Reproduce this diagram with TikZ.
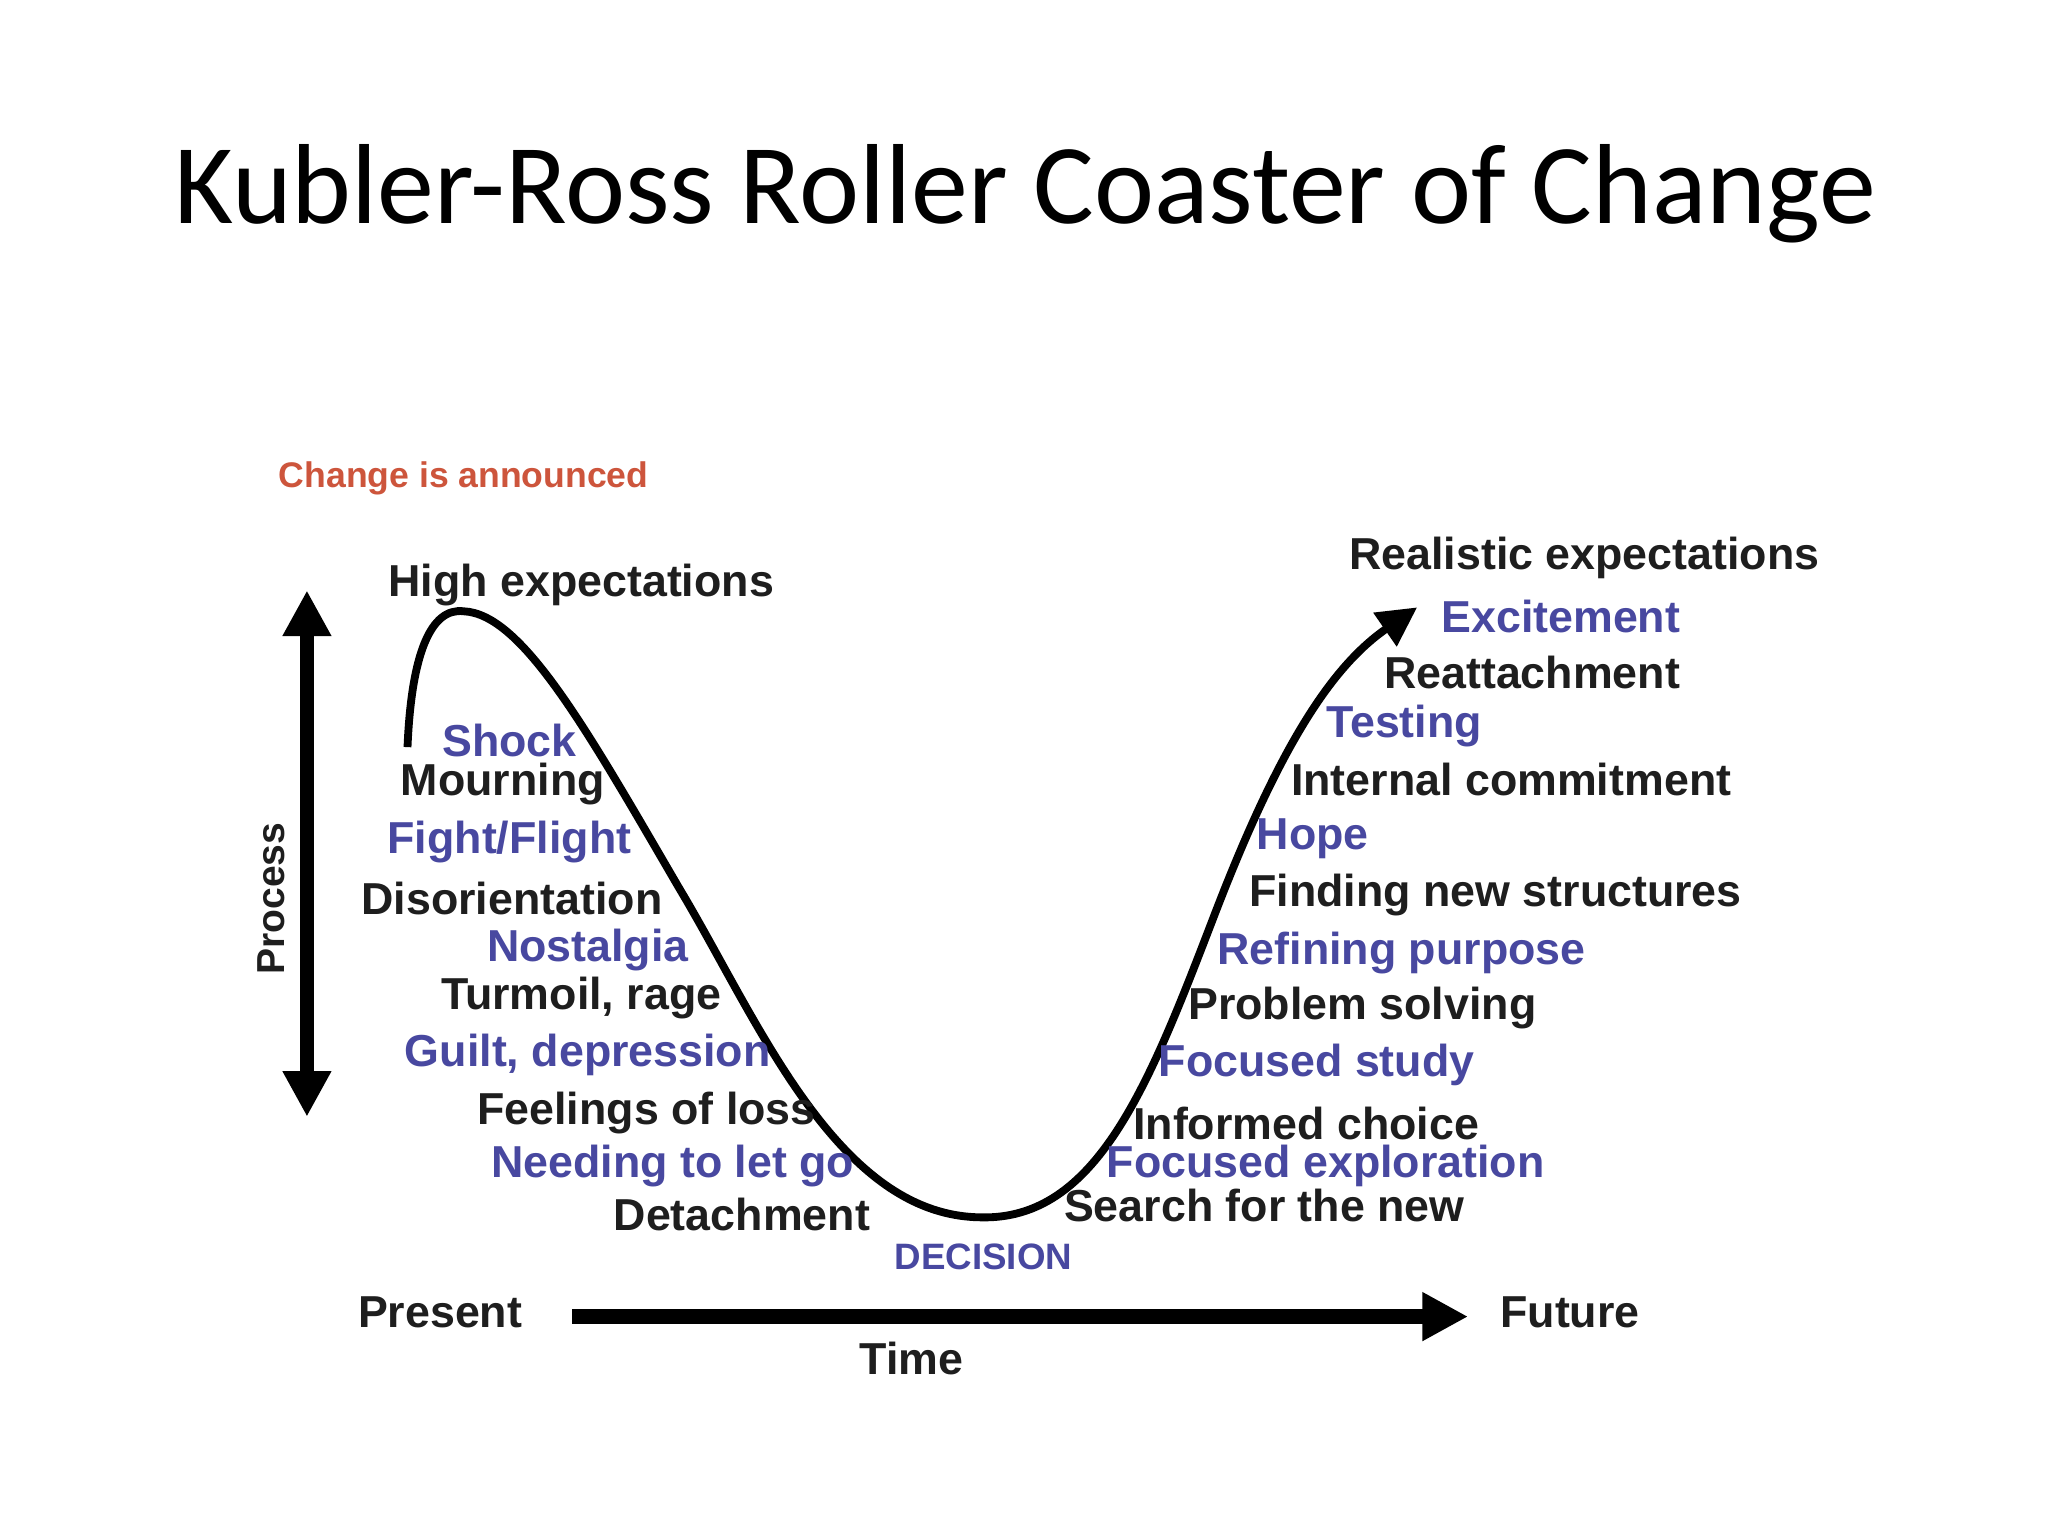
\documentclass[tikz,border=0pt]{standalone}
\usepackage{fontspec}
\setmainfont{Liberation Sans}
\newfontfamily\titlefont{Carlito}
\usetikzlibrary{arrows.meta}
\definecolor{bl}{RGB}{72,72,160}
\definecolor{tx}{RGB}{30,30,30}
\definecolor{rd}{RGB}{205,85,60}
\begin{document}
\begin{tikzpicture}[x=0.2mm,y=-0.2mm,
  lb/.style={font=\bfseries\fontsize{19.5}{22}\selectfont,text=tx,inner sep=0pt},
  lbb/.style={lb,text=bl}]
\useasboundingbox (0,0) rectangle (1568,1176);
\fill[white] (0,0) rectangle (1568,1176);
\node[font=\titlefont\fontsize{49.6}{58}\selectfont,inner sep=0pt] (title) at (785,148) {Kubler-Ross Roller Coaster of Change};
\node[font=\bfseries\fontsize{15.5}{17}\selectfont,text=rd,inner sep=0pt] (ann) at (355,366) {Change is announced};
% axes
\coordinate (vt) at (235,452);
\coordinate (vb) at (235,855);
\draw[line width=2.2mm,{Triangle[length=7mm,width=7mm]}-{Triangle[length=7mm,width=7mm]}] (vt) -- (vb);
\node[lb,rotate=90,font=\bfseries\fontsize{17}{20}\selectfont] (proc) at (208,688) {Process};
\coordinate (hl) at (438,1008);
\coordinate (hr) at (1124,1008);
\draw[line width=2.2mm,-{Triangle[length=7mm,width=7mm]}] (hl) -- (hr);
\node[lb] (present) at (337,1005) {Present};
\node[lb] (future) at (1202,1005) {Future};
\node[lb] (time) at (698,1040) {Time};
% curve
\coordinate (c0) at (312,572);
\coordinate (c1) at (355,468);
\coordinate (c2) at (750,932);
\coordinate (c3) at (1085,465);
\draw[line width=1.2mm,-{Triangle[length=6mm,width=6mm]}]
  (c0) .. controls (315,500) and (330,465) .. (c1)
  .. controls (400,470) and (450,560) .. (520,680)
  .. controls (580,780) and (640,930) .. (c2)
  .. controls (840,935) and (880,830) .. (930,700)
  .. controls (980,570) and (1020,510) .. (c3);
% left labels
\node[lb] (he) at (445,448) {High expectations};
\node[lbb] (shock) at (390,567) {Shock};
\node[lb] (mourn) at (385,600) {Mourning};
\node[lbb] (ff) at (390,645) {Fight/Flight};
\node[lb] (dis) at (392,688) {Disorientation};
\node[lbb] (nos) at (450,727) {Nostalgia};
\node[lb] (tur) at (445,764) {Turmoil, rage};
\node[lbb] (guilt) at (450,808) {Guilt, depression};
\node[lb] (fol) at (495,852) {Feelings of loss};
\node[lbb] (ntlg) at (515,893) {Needing to let go};
\node[lb] (det) at (568,930) {Detachment};
\node[lbb,font=\bfseries\fontsize{16}{18}\selectfont] (dec) at (753,962) {DECISION};
% right labels
\node[lb] (sfn) at (968,923) {Search for the new};
\node[lbb] (fe) at (1015,893) {Focused exploration};
\node[lb] (ic) at (1000,860) {Informed choice};
\node[lbb] (fs) at (1008,815) {Focused study};
\node[lb] (ps) at (1043,772) {Problem solving};
\node[lbb] (rp) at (1073,730) {Refining purpose};
\node[lb] (fns) at (1145,685) {Finding new structures};
\node[lbb] (hope) at (1005,642) {Hope};
\node[lb] (icom) at (1157,597) {Internal commitment};
\node[lbb] (test) at (1075,556) {Testing};
\node[lb] (reat) at (1173,515) {Reattachment};
\node[lbb] (exc) at (1195,472) {Excitement};
\node[lb] (re) at (1213,427) {Realistic expectations};
\end{tikzpicture}
\end{document}
